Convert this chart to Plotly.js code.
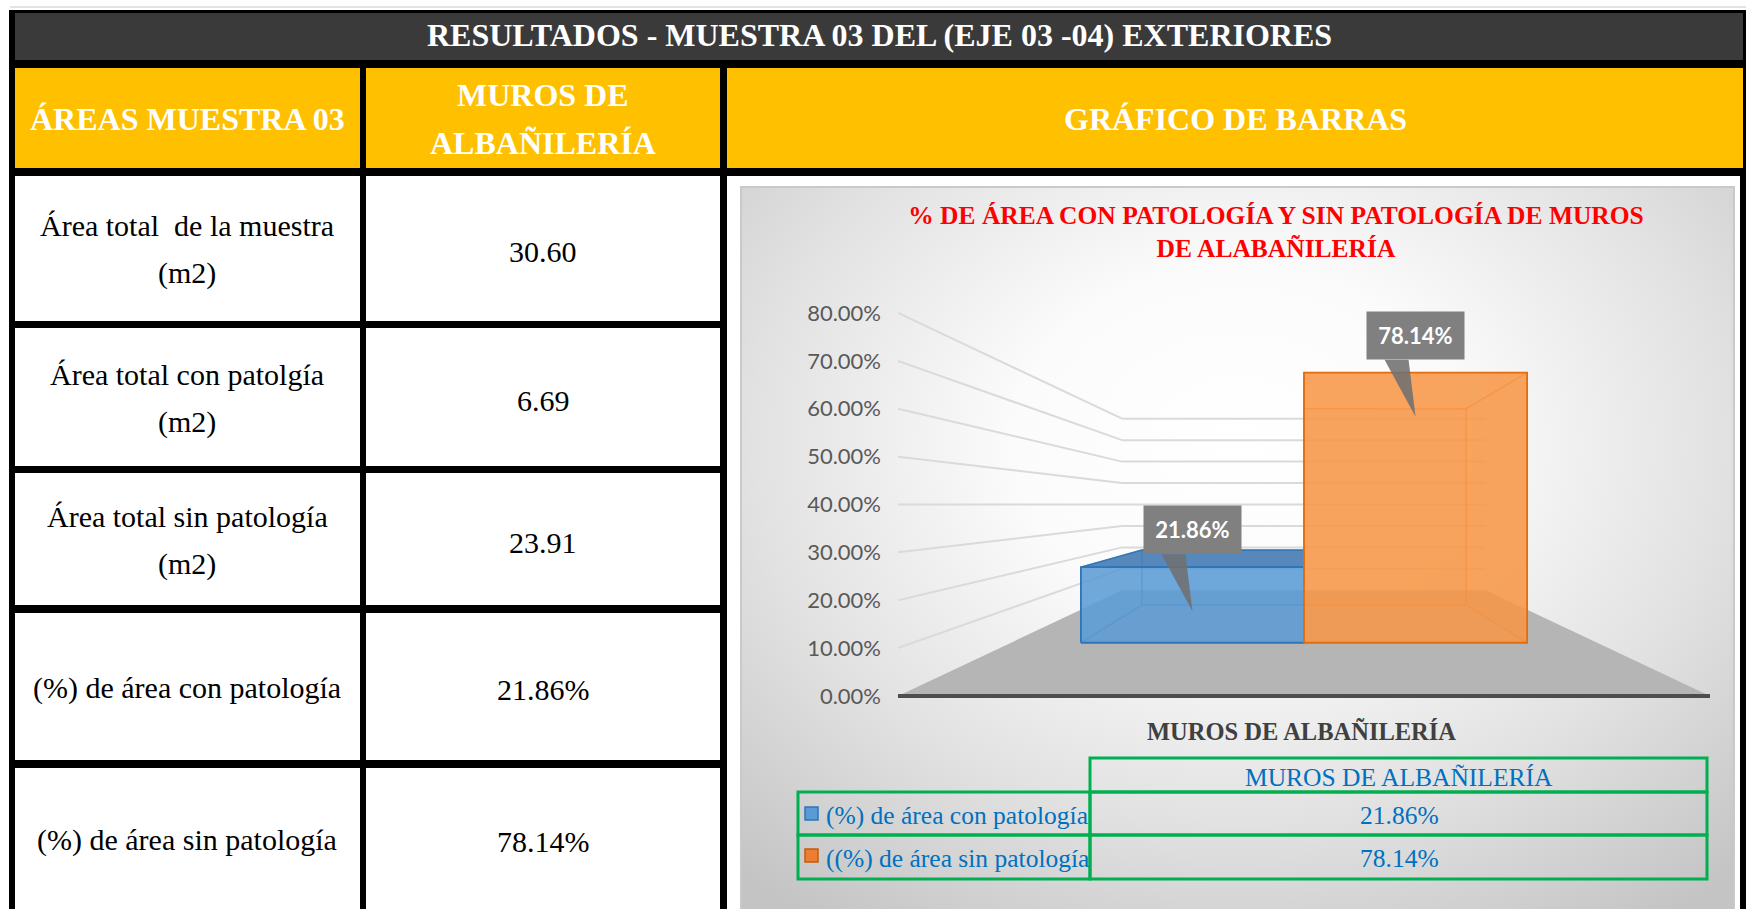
<!DOCTYPE html>
<html>
<head>
<meta charset="utf-8">
<script src="https://cdn.plot.ly/plotly-3.0.1.min.js"></script>
<style>
  html, body { margin: 0; padding: 0; background: #ffffff; width: 1746px; height: 909px; overflow: hidden; }
  #bg { position: absolute; left: 740px; top: 186px; width: 995px; height: 730px;
        border: 2px solid #c9c9c9; box-sizing: border-box;
        background: radial-gradient(ellipse 75% 80% at 50% 35%, #ffffff 0%, #fbfbfb 30%, #e2e2e2 65%, #c4c4c4 100%); }
  #chart { position: absolute; left: 0; top: 0; width: 1746px; height: 909px; }
</style>
</head>
<body>
<div id="bg"></div>
<div id="chart"></div>
<script>
// ---------------- data ----------------
const mainTitle = 'RESULTADOS - MUESTRA 03 DEL (EJE 03 -04) EXTERIORES';
const headerLabels = ['ÁREAS MUESTRA 03', 'MUROS DE<br>ALBAÑILERÍA', 'GRÁFICO DE BARRAS'];
const rowLabels = [
  'Área total  de la muestra<br>(m2)',
  'Área total con patolgía<br>(m2)',
  'Área total sin patología<br>(m2)',
  '(%) de área con patología',
  '(%) de área sin patología'
];
const rowValues = ['30.60', '6.69', '23.91', '21.86%', '78.14%'];
const chartTitle = '% DE ÁREA CON PATOLOGÍA Y SIN PATOLOGÍA DE MUROS<br>DE ALABAÑILERÍA';
const categories = ['MUROS DE ALBAÑILERÍA'];
const seriesNames = ['(%) de área con patología', '((%) de área sin patología'];
const seriesValues = [21.86, 78.14];
const yTickVals = [0, 10, 20, 30, 40, 50, 60, 70, 80];
const yTickText = ['0.00%', '10.00%', '20.00%', '30.00%', '40.00%', '50.00%', '60.00%', '70.00%', '80.00%'];

// ---------------- styles / geometry ----------------
const W = 1746, H = 909;
const PX = x => x / W;
const PY = y => 1 - y / H;
const SERIF = '"Liberation Serif", "Times New Roman", serif';
const SANS = 'Lato, "Open Sans", sans-serif';
const seriesStyle = [
  { face: '91,155,213', top: '74,127,181', edge: '46,117,182', key: '#5b9bd5', keyLine: '#2e75b6' },
  { face: '247,150,70', top: '247,150,70', edge: '228,108,10', key: '#ed7d31', keyLine: '#c55a11' }
];

// perspective (front plane: value axis), x-axis in pixel units
const Y0PX = 696, PPU = 383 / 80;          // value 0 at page y 696, px per value unit
const VPX = 1304, VPV = 40;                 // vanishing point
const S_WALL = 0.448, S_BF = 0.722, S_BB = 0.525;
const LEFT_X = 898, RIGHT_X = 1710, BAR_W = 309;
function P(X, v, s) { return [VPX + (X - VPX) * s, VPV + (v - VPV) * s]; }

function polyTrace(pts, fill, line) {
  const xs = pts.map(p => p[0]), ys = pts.map(p => p[1]);
  xs.push(xs[0]); ys.push(ys[0]);
  return { type: 'scatter', mode: 'lines', x: xs, y: ys, fill: 'toself', fillcolor: fill,
           line: line || { width: 0, color: 'rgba(0,0,0,0)' }, hoverinfo: 'skip' };
}
function segTrace(segs, color, width) {
  const xs = [], ys = [];
  segs.forEach(s => { xs.push(s[0][0], s[1][0], null); ys.push(s[0][1], s[1][1], null); });
  return { type: 'scatter', mode: 'lines', x: xs, y: ys, line: { color: color, width: width }, hoverinfo: 'skip' };
}

const traces = [];
// walls gridlines
const gsegs = [];
yTickVals.forEach(v => {
  if (v === 0) return;
  gsegs.push([P(LEFT_X, v, 1), P(LEFT_X, v, S_WALL)]);
  gsegs.push([P(LEFT_X, v, S_WALL), P(RIGHT_X, v, S_WALL)]);
});
traces.push(segTrace(gsegs, '#dadada', 2));
// floor
traces.push(polyTrace([P(LEFT_X, 0, 1), P(RIGHT_X, 0, 1), P(RIGHT_X, 0, S_WALL), P(LEFT_X, 0, S_WALL)], '#b5b5b5'));
traces.push(segTrace([[P(LEFT_X, 0, 1), P(RIGHT_X, 0, 1)]], '#4d4d4d', 4));

// bars
const callouts = [];
seriesValues.forEach((v, i) => {
  const n = seriesValues.length;
  const X0 = VPX - n * BAR_W / 2 + i * BAR_W, X1 = X0 + BAR_W;
  const st = seriesStyle[i];
  const c = a => `rgba(${st.face},${a})`;
  const F = s => [P(X0, 0, s), P(X1, 0, s), P(X1, v, s), P(X0, v, s)];
  const fr = F(S_BF), bk = F(S_BB);
  traces.push(polyTrace(bk, c(0.18)));
  traces.push(polyTrace([fr[0], bk[0], bk[3], fr[3]], c(0.12)));
  traces.push(polyTrace([fr[1], bk[1], bk[2], fr[2]], c(0.12)));
  const hidden = [[bk[0], bk[1]], [bk[1], bk[2]], [bk[2], bk[3]], [bk[3], bk[0]],
                  [fr[0], bk[0]], [fr[1], bk[1]], [fr[2], bk[2]], [fr[3], bk[3]]];
  traces.push(segTrace(hidden, `rgba(${st.edge},0.7)`, 1.5));
  const top = [fr[3], fr[2], bk[2], bk[3]];
  if (v < VPV) traces.push(polyTrace(top, `rgba(${st.top},0.92)`, { color: `rgb(${st.edge})`, width: 1.2 }));
  else traces.push(polyTrace(top, c(0.1)));
  traces.push(polyTrace(fr, c(0.85), { color: `rgb(${st.edge})`, width: 1.8 }));
  const tip = P((X0 + X1) / 2, v, S_BF);
  callouts.push({ x: tip[0], v: tip[1] - 44 / PPU, text: v.toFixed(2) + '%' });
});
// callout pointers
callouts.forEach(cl => {
  const baseV = cl.v + 57 / PPU;
  traces.push(polyTrace([[cl.x - 31, baseV], [cl.x - 7, baseV], [cl.x, cl.v]], 'rgba(112,112,112,0.88)'));
});

// ---------------- table shapes ----------------
const shapes = [];
function rect(x0, y0, x1, y1, fill, line) {
  shapes.push({ type: 'rect', xref: 'paper', yref: 'paper', x0: PX(x0), x1: PX(x1), y0: PY(y1), y1: PY(y0),
                fillcolor: fill, line: line || { width: 0 }, layer: 'below' });
}
shapes.push({ type: 'line', xref: 'paper', yref: 'paper', x0: PX(10), x1: PX(1746), y0: PY(7), y1: PY(7),
              line: { color: '#c8c8c8', width: 1 }, layer: 'below' });
rect(9, 10, 1746, 176, '#000000');
rect(15, 13, 1743, 60, '#3a3a3a');
const colX = [[15, 360], [366, 720], [727, 1743]];
colX.forEach(c => rect(c[0], 68, c[1], 168, '#ffc000'));
rect(9, 176, 727, 909, '#000000');
rect(1740, 176, 1746, 909, '#000000');
const rowY = [[176, 321], [328, 466], [473, 605], [613, 760], [768, 909]];
rowY.forEach(r => { rect(15, r[0], 360, r[1], '#ffffff'); rect(366, r[0], 720, r[1], '#ffffff'); });

// chart data table (green grid)
const GREEN = { color: '#00b050', width: 3 };
rect(1090, 758, 1707, 792, 'rgba(0,0,0,0)', GREEN);
rect(798, 792, 1090, 835, 'rgba(0,0,0,0)', GREEN);
rect(1090, 792, 1707, 835, 'rgba(0,0,0,0)', GREEN);
rect(798, 835, 1090, 879, 'rgba(0,0,0,0)', GREEN);
rect(1090, 835, 1707, 879, 'rgba(0,0,0,0)', GREEN);
const keyRows = [807, 849];
seriesNames.forEach((nm, i) => rect(805, keyRows[i], 818, keyRows[i] + 13, seriesStyle[i].key,
  { color: seriesStyle[i].keyLine, width: 1.5 }));

// ---------------- annotations ----------------
const annotations = [];
function label(x, y, text, font, xanchor) {
  annotations.push({ xref: 'paper', yref: 'paper', x: PX(x), y: PY(y), text: text, showarrow: false,
                     xanchor: xanchor || 'center', yanchor: 'middle', font: font });
}
function multi(x, yc, text, font, gap) {
  const lines = text.split('<br>');
  lines.forEach((ln, k) => label(x, yc + (k - (lines.length - 1) / 2) * gap, ln, font));
}
const hdrFont = { family: SERIF, size: 32, color: '#ffffff', weight: 'bold' };
label(879, 35, mainTitle, hdrFont);
multi(187, 119, headerLabels[0], hdrFont, 48);
multi(543, 119, headerLabels[1], hdrFont, 48);
multi(1235, 119, headerLabels[2], hdrFont, 48);
const bodyFont = { family: SERIF, size: 30, color: '#000000' };
rowY.forEach((r, i) => {
  const yc = (r[0] + r[1]) / 2 + 1;
  multi(187, yc, rowLabels[i], bodyFont, 47);
  label(543, yc + 2, rowValues[i], bodyFont);
});
// chart texts
label(1301, 731, categories[0], { family: SERIF, size: 24.5, color: '#404040', weight: 'bold' });
const tblFont = { family: SERIF, size: 25.5, color: '#0070c0' };
label(1399, 777, categories[0], tblFont);
const tblRowY = [815, 858];
seriesNames.forEach((nm, i) => {
  label(824, tblRowY[i], nm, tblFont, 'left');
  label(1399, tblRowY[i], seriesValues[i].toFixed(2) + '%', tblFont);
});
callouts.forEach(cl => {
  annotations.push({ xref: 'x', yref: 'y', x: cl.x, y: cl.v, yshift: 57, xanchor: 'center', yanchor: 'bottom',
    text: cl.text, showarrow: false, bgcolor: '#808080', width: 97, height: 47, borderpad: 0,
    font: { family: SANS, size: 22, color: '#ffffff', weight: 'bold' } });
});

const layout = {
  width: W, height: H, margin: { l: 0, r: 0, t: 0, b: 0 },
  paper_bgcolor: 'rgba(0,0,0,0)', plot_bgcolor: 'rgba(0,0,0,0)',
  showlegend: false,
  title: { text: chartTitle, x: PX(1276), xanchor: 'center', y: PY(224), yanchor: 'middle',
           font: { family: SERIF, size: 25.5, color: '#ff0000', weight: 'bold' } },
  xaxis: { domain: [PX(898), PX(1738)], range: [898, 1738], visible: false, fixedrange: true },
  yaxis: { domain: [PY(909), PY(186)], range: [(Y0PX - 909) / PPU, (Y0PX - 186) / PPU],
           tickmode: 'array', tickvals: yTickVals, ticktext: yTickText,
           showgrid: false, zeroline: false, showline: false, ticks: '', ticklabelstandoff: 16,
           tickfont: { family: SANS, size: 22, color: '#595959' }, fixedrange: true },
  shapes: shapes, annotations: annotations
};
Plotly.newPlot('chart', traces, layout, { staticPlot: true, displayModeBar: false });
</script>
</body>
</html>
